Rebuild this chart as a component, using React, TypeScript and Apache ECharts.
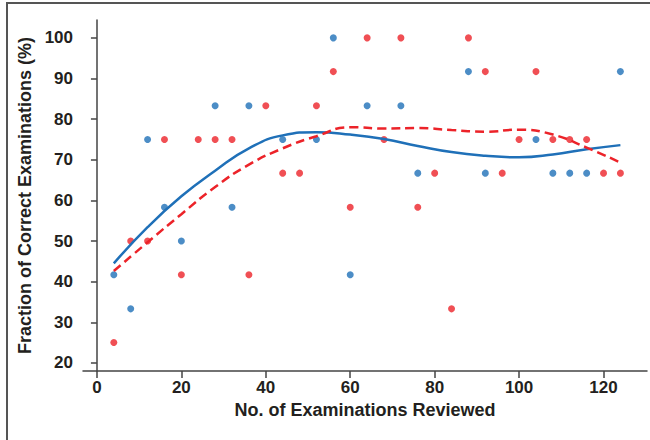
import React, { useEffect, useRef } from 'react';
import * as echarts from 'echarts';

const xTicks = [0, 20, 40, 60, 80, 100, 120];
const yTicks = [20, 30, 40, 50, 60, 70, 80, 90, 100];

const redX = [4, 8, 12, 16, 20, 24, 28, 32, 36, 40, 44, 48, 52, 56, 60, 64, 68, 72, 76, 80, 84, 88, 92, 96, 100, 104, 108, 112, 116, 120, 124];
const redY = [25, 50, 50, 75, 41.7, 75, 75, 75, 41.7, 83.3, 66.7, 66.7, 83.3, 91.7, 58.3, 100, 75, 100, 58.3, 66.7, 33.3, 100, 91.7, 66.7, 75, 91.7, 75, 75, 75, 66.7, 66.7];

const blueX = [4, 8, 12, 16, 20, 28, 32, 36, 44, 52, 56, 60, 64, 72, 76, 88, 92, 104, 108, 112, 116, 124];
const blueY = [41.7, 33.3, 75, 58.3, 50, 83.3, 58.3, 83.3, 75, 75, 100, 41.7, 83.3, 83.3, 66.7, 91.7, 66.7, 75, 66.7, 66.7, 66.7, 91.7];

const curveX = [4, 12, 20, 28, 36, 44, 52, 60, 68, 76, 84, 92, 100, 108, 116, 124];
const blueCurveY = [44.5, 53.4, 61, 67.3, 72.8, 76, 76.8, 76.2, 75.1, 73.4, 71.9, 71, 70.6, 71.3, 72.6, 73.6];
const redCurveY = [42.6, 49.7, 56.6, 63.3, 68.8, 72.8, 75.8, 78, 77.7, 77.8, 77.3, 76.9, 77.4, 76.2, 73, 69.3];

const BLUE = '#1f70b8';
const RED = '#ec2329';
const FONT = '"Liberation Sans", Arial, Helvetica, sans-serif';
const TEXT = '#231f20';

const zip = (xs: number[], ys: number[]) => xs.map((x, i) => [x, ys[i]]);

export default function App() {
  const ref = useRef<HTMLDivElement>(null);
  useEffect(() => {
    if (!ref.current) return;
    const chart = echarts.init(ref.current, null, { renderer: 'svg' });
    const axisLine = { show: true, lineStyle: { color: '#444', width: 1.5 } };
    chart.setOption({
      animation: false,
      backgroundColor: '#fff',
      grid: { left: 83, right: 3, top: 20, bottom: 69, outerBoundsMode: 'none' },
      graphic: [
        {
          type: 'polyline',
          shape: { points: [[7, 440], [7, 3], [650, 3]] },
          style: { stroke: '#555', lineWidth: 2, fill: 'none' },
          silent: true,
        },
      ],
      xAxis: {
        type: 'value',
        min: -3.3,
        max: 130.3,
        axisLine,
        splitLine: { show: false },
        axisTick: { show: true, length: 7, customValues: xTicks, lineStyle: { color: '#444', width: 1.5 } },
        axisLabel: { customValues: xTicks, margin: 8, color: TEXT, fontSize: 17, fontWeight: 'bold', fontFamily: FONT },
        name: 'No. of Examinations Reviewed',
        nameLocation: 'middle',
        nameGap: 28,
        nameTextStyle: { color: TEXT, fontSize: 18, fontWeight: 'bold', fontFamily: FONT },
      },
      yAxis: {
        type: 'value',
        min: 18,
        max: 104.4,
        axisLine,
        splitLine: { show: false },
        axisTick: { show: true, length: 6, customValues: yTicks, lineStyle: { color: '#444', width: 1.5 } },
        axisLabel: { customValues: yTicks, margin: 10, color: TEXT, fontSize: 17, fontWeight: 'bold', fontFamily: FONT },
        name: 'Fraction of Correct Examinations (%)',
        nameLocation: 'middle',
        nameGap: 36,
        nameTextStyle: { color: TEXT, fontSize: 18, fontWeight: 'bold', fontFamily: FONT },
      },
      series: [
        {
          type: 'scatter',
          data: zip(blueX, blueY),
          symbolSize: 7,
          itemStyle: { color: BLUE },
          z: 2,
        },
        {
          type: 'scatter',
          data: zip(redX, redY),
          symbolSize: 7,
          itemStyle: { color: RED },
          z: 3,
        },
        {
          type: 'line',
          data: zip(curveX, blueCurveY),
          smooth: true,
          showSymbol: false,
          lineStyle: { color: BLUE, width: 2.5 },
          z: 4,
        },
        {
          type: 'line',
          data: zip(curveX, redCurveY),
          smooth: true,
          showSymbol: false,
          lineStyle: { color: RED, width: 2.5, type: [9, 5] },
          z: 5,
        },
      ],
    });
    return () => chart.dispose();
  }, []);
  return (
    <div
      ref={ref}
      style={{ position: 'fixed', left: 0, top: 0, width: 650, height: 440, background: '#fff' }}
    />
  );
}
